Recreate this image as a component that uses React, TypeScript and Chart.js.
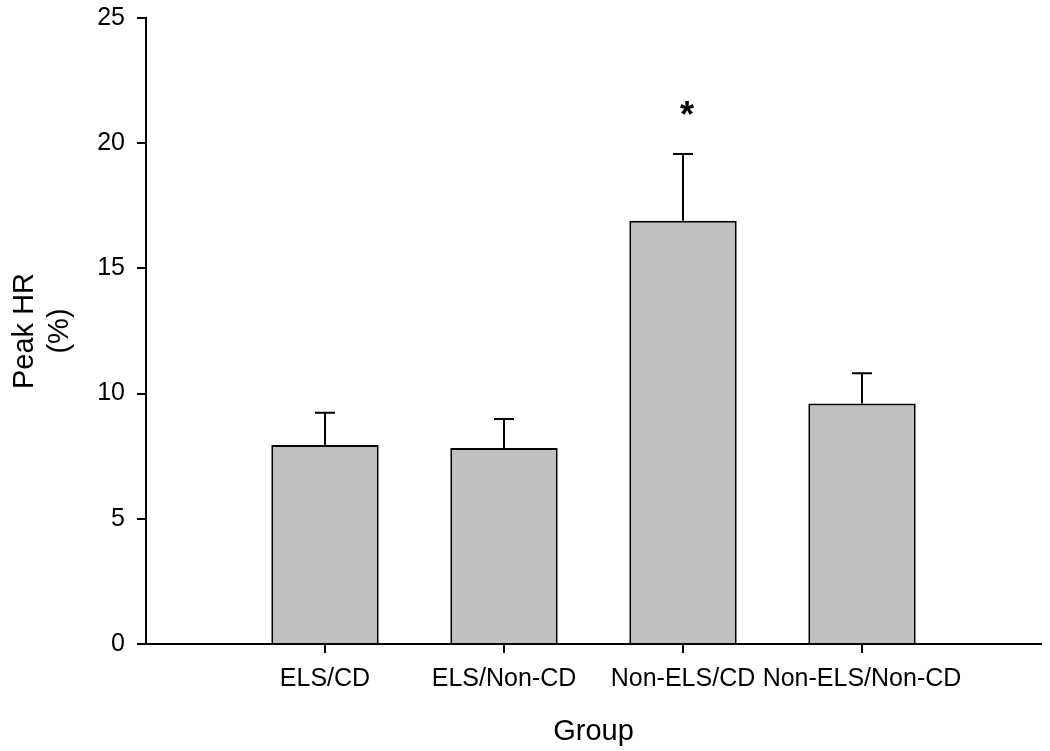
import React, { useEffect, useRef } from "react";
import { Chart, registerables } from "chart.js";

Chart.register(...registerables);

const categories = ["ELS/CD", "ELS/Non-CD", "Non-ELS/CD", "Non-ELS/Non-CD"];
const means = [7.95, 7.83, 16.9, 9.6];
const errors = [1.29, 1.16, 2.67, 1.21];
const significance = ["", "", "*", ""];
const yTicks = [0, 5, 10, 15, 20, 25];

const FONT = "'Liberation Sans', Arial, Helvetica, sans-serif";

const errorBarPlugin = {
  id: "errorBars",
  afterDatasetsDraw(chart: any) {
    const xs = chart.scales.x;
    const ys = chart.scales.y;
    const ctx = chart.ctx;
    ctx.save();
    ctx.strokeStyle = "#000";
    ctx.lineWidth = 2;
    means.forEach((m, i) => {
      const x = xs.getPixelForValue(i + 1);
      const yTop = ys.getPixelForValue(m);
      const yCap = ys.getPixelForValue(m + errors[i]);
      ctx.beginPath();
      ctx.moveTo(x, yTop);
      ctx.lineTo(x, yCap);
      ctx.moveTo(x - 10, yCap);
      ctx.lineTo(x + 10, yCap);
      ctx.stroke();
      if (significance[i]) {
        const size = 36;
        ctx.fillStyle = "#000";
        ctx.font = `bold ${size}px ${FONT}`;
        ctx.textAlign = "center";
        ctx.textBaseline = "alphabetic";
        const center = yCap - 47;
        ctx.fillText(significance[i], x + 4, center + 0.57 * size);
      }
    });
    ctx.restore();
  },
};

export default function App() {
  const ref = useRef<HTMLCanvasElement>(null);
  useEffect(() => {
    if (!ref.current) return;
    Chart.defaults.font.family = FONT;
    Chart.defaults.color = "#000";
    const chart = new Chart(ref.current, {
      type: "bar",
      data: {
        datasets: [
          {
            data: means.map((m, i) => ({ x: i + 1, y: m })),
            backgroundColor: "#c0c0c0",
            borderColor: "#000",
            borderWidth: 2,
            categoryPercentage: 1,
            barPercentage: 0.6,
          } as any,
        ],
      },
      options: {
        animation: false,
        responsive: false,
        layout: { padding: { top: 18, right: 9, left: 0, bottom: 0 } },
        plugins: { legend: { display: false }, tooltip: { enabled: false } },
        scales: {
          x: {
            type: "linear",
            min: 0,
            max: categories.length + 1,
            offset: false,
            afterBuildTicks: (s: any) => {
              s.ticks = categories.map((_, i) => ({ value: i + 1 }));
            },
            afterFit: (s: any) => {
              s.height = 107;
              s.paddingLeft = 0;
              s.paddingRight = 0;
            },
            ticks: {
              autoSkip: false,
              maxRotation: 0,
              font: { size: 25 },
              color: "#000",
              padding: 11,
              callback: (v: any) => categories[Number(v) - 1] ?? "",
            },
            grid: {
              offset: false,
              drawOnChartArea: false,
              drawTicks: true,
              tickLength: 9,
              color: "#000",
              lineWidth: 2,
            },
            border: { display: true, color: "#000", width: 2 },
            title: {
              display: true,
              text: "Group",
              font: { size: 29 },
              color: "#000",
              padding: { top: 0, bottom: 2 },
            },
          },
          y: {
            min: 0,
            max: 25,
            afterBuildTicks: (s: any) => {
              s.ticks = yTicks.map((v) => ({ value: v }));
            },
            afterFit: (s: any) => {
              s.width = 146;
              s.paddingTop = 0;
              s.paddingBottom = 0;
            },
            ticks: {
              font: { size: 25 },
              color: "#000",
              padding: 12,
            },
            grid: {
              drawOnChartArea: false,
              drawTicks: true,
              tickLength: 9,
              color: "#000",
              lineWidth: 2,
            },
            border: { display: true, color: "#000", width: 2 },
            title: {
              display: true,
              text: ["Peak HR", "(%)"],
              font: { size: 29, lineHeight: 1.2 },
              color: "#000",
              padding: { top: 8, bottom: 0 },
            },
          },
        },
      },
      plugins: [errorBarPlugin],
    });
    return () => chart.destroy();
  }, []);
  return (
    <div style={{ position: "absolute", left: 0, top: 0, width: 1050, height: 751, background: "#fff" }}>
      <canvas ref={ref} width={1050} height={751} style={{ display: "block" }} />
    </div>
  );
}
